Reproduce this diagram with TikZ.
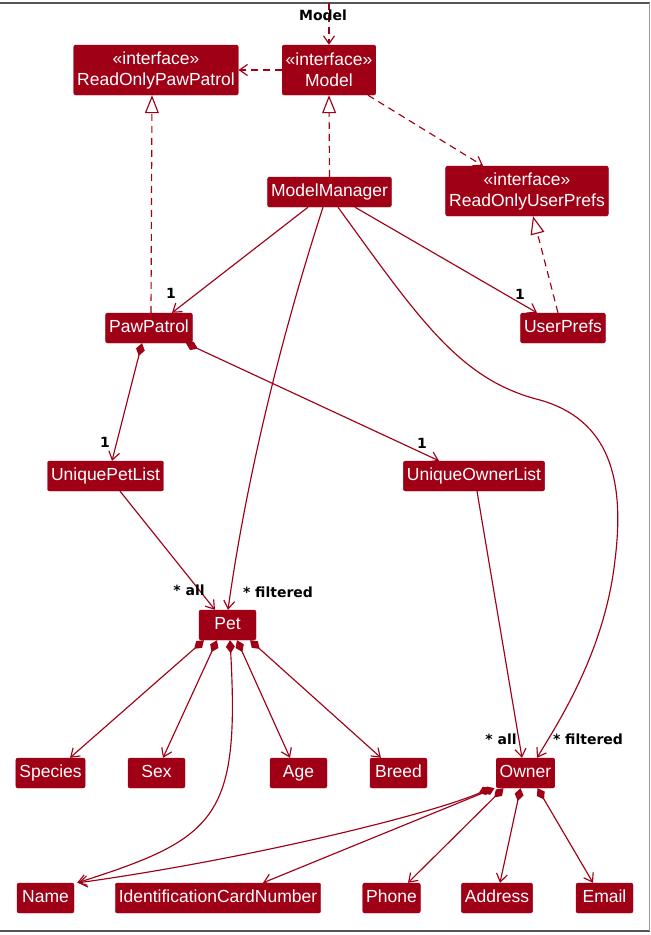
\documentclass[tikz,border=0pt]{standalone}
\usepackage{fontspec}
\setmainfont{Liberation Sans}
\newfontfamily\lblfamily{DejaVu Sans}
\usetikzlibrary{arrows.meta,positioning}
\definecolor{umlred}{HTML}{A00016}
\definecolor{framegray}{HTML}{555555}

\begin{document}
\begin{tikzpicture}[x=1pt,y=-1pt,
  box/.style={rectangle,rounded corners=2pt,fill=umlred,draw=umlred,text=white,
              font=\fontsize{17.5}{21}\selectfont,align=center,
              minimum width=57pt,inner xsep=3.5pt,inner ysep=3pt},
  cls/.style={box,text height=13pt,text depth=4pt,minimum height=30pt},
  iface/.style={box,minimum height=50pt},
  lbl/.style={font=\lblfamily\bfseries\fontsize{14}{16}\selectfont,inner sep=0pt},
  link/.style={draw=umlred,line width=1.15pt,-{Straight Barb[length=8pt,width=11pt]}},
  dep/.style={link,dash pattern=on 7pt off 5pt},
  impl/.style={draw=umlred,line width=1.15pt,dash pattern=on 7pt off 5pt,
               -{Triangle[open,length=18pt,width=14pt,fill=white]}},
  comp/.style={link,{Diamond[length=13pt,width=9pt]}-{Straight Barb[length=8pt,width=11pt]}}
]
\useasboundingbox (0,0) rectangle (651,935);

% ---- Frame ------------------------------------------------------
\draw[framegray,line width=2pt] (0,3) -- (649.5,3);
\draw[framegray,line width=2pt] (0,931) -- (649.5,931);
\draw[framegray!60,line width=0.8pt] (649.5,3) -- (649.5,931);

% ---- Interfaces ---------------------------------------------------
\node[iface] (rpp)   at (156,70)  {«interface»\\ReadOnlyPawPatrol};
\node[iface] (model) at (329,70)  {«interface»\\Model};
\node[iface] (rup)   at (527,191) {«interface»\\ReadOnlyUserPrefs};

% ---- Classes ------------------------------------------------------
\node[cls] (mm)    at (329.5,192) {ModelManager};
\node[cls] (paw)   at (149,328)   {PawPatrol};
\node[cls] (prefs) at (563,328)   {UserPrefs};
\node[cls] (upl)   at (105.5,476) {UniquePetList};
\node[cls] (uol)   at (474,476)   {UniqueOwnerList};
\node[cls] (pet)   at (227.5,625) {Pet};
\node[cls] (owner) at (525.5,773) {Owner};

% ---- Pet attributes -----------------------------------------------
\node[cls] (species) at (50.5,773)  {Species};
\node[cls] (sex)     at (156.5,773) {Sex};
\node[cls] (age)     at (298.5,773) {Age};
\node[cls] (breed)   at (398.5,773) {Breed};

% ---- Owner attributes / shared ------------------------------------
\node[cls] (name)    at (45.5,898)  {Name};
\node[cls] (idcard)  at (218,898)   {IdentificationCardNumber};
\node[cls] (phone)   at (391.5,898) {Phone};
\node[cls] (address) at (497,898)   {Address};
\node[cls] (email)   at (604.5,898) {Email};

% ---- Entry into the component -------------------------------------
\coordinate (entry) at (329,3);
\draw[dep] (entry) -- (model.north);
\node[lbl] (title) at (323,15) {Model};

% ---- Interface links ------------------------------------------------
\draw[dep]  (model.west) -- (rpp.east);
\draw[dep]  ([xshift=39pt]model.south) -- ([xshift=-44pt]rup.north);
\draw[impl] (mm.north) -- (model.south);
\draw[impl] ([xshift=2pt]paw.north) -- ([xshift=-4pt]rpp.south);
\draw[impl] ([xshift=-5pt]prefs.north) -- ([xshift=6pt]rup.south);

% ---- ModelManager associations ------------------------------------
\draw[link] ([xshift=-21.5pt]mm.south) -- ([xshift=23pt]paw.north);
\draw[link] ([xshift=25.5pt]mm.south) -- ([xshift=-26pt]prefs.north);
\draw[link] ([xshift=-6.5pt]mm.south)
  .. controls +(-43,133) and +(18,-129) .. ([xshift=0.5pt]pet.north);
\coordinate (bendA) at (540,400);
\coordinate (bendB) at (615,560);
\draw[link] ([xshift=8.5pt]mm.south)
  .. controls +(82,113) and +(-80,-20) .. (bendA)
  .. controls +(70,20) and +(10,-80) .. (bendB)
  .. controls +(-10,90) and +(23,-38) .. ([xshift=11.5pt]owner.north);

\node[lbl] (m1) at (171,293) {1};
\node[lbl] (m2) at (520,294) {1};

% ---- PawPatrol compositions ---------------------------------------
\draw[comp] ([xshift=-7pt]paw.south) -- ([xshift=6.5pt]upl.north);
\draw[comp] ([xshift=37pt]paw.south) -- ([xshift=-35pt]uol.north);
\node[lbl] (m3) at (105,442) {1};
\node[lbl] (m4) at (422,443) {1};

% ---- Lists to elements --------------------------------------------
\draw[link] ([xshift=14.5pt]upl.south) -- ([xshift=-12.5pt]pet.north);
\draw[link] ([xshift=3pt]uol.south) -- ([xshift=-3.5pt]owner.north);
\node[lbl] (m5) at (189,590) {* all};
\node[lbl] (m6) at (278,592) {* filtered};
\node[lbl] (m7) at (501,739) {* all};
\node[lbl] (m8) at (588,739) {* filtered};

% ---- Pet compositions ---------------------------------------------
\draw[comp] ([xshift=-23.5pt]pet.south) -- ([xshift=19.5pt]species.north);
\draw[comp] ([xshift=-10.5pt]pet.south) -- ([xshift=6.5pt]sex.north);
\draw[comp] ([xshift=9.5pt]pet.south) -- ([xshift=-8.5pt]age.north);
\draw[comp] ([xshift=22.5pt]pet.south) -- ([xshift=-17.5pt]breed.north);
\draw[comp] ([xshift=2.5pt]pet.south)
  .. controls +(10,179) and +(138,-44) .. ([xshift=3pt]name.north east);

% ---- Owner compositions -------------------------------------------
\draw[comp] ([xshift=-35pt]owner.south)
  .. controls +(-60,26) and +(172,-24) .. ([xshift=4pt]name.north east);
\draw[comp] ([xshift=-31pt]owner.south) -- ([xshift=45pt]idcard.north);
\draw[comp] ([xshift=-22pt]owner.south) -- ([xshift=16.5pt]phone.north);
\draw[comp] ([xshift=-5pt]owner.south) -- ([xshift=3pt]address.north);
\draw[comp] ([xshift=12pt]owner.south) -- ([xshift=-11.5pt]email.north);

\end{tikzpicture}
\end{document}
